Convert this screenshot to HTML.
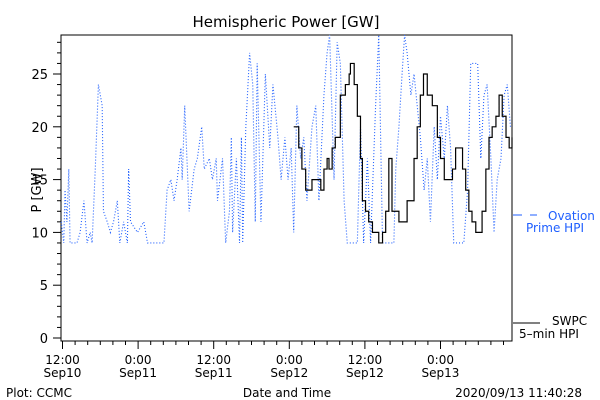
<!DOCTYPE html>
<html><head><meta charset="utf-8"><style>
html,body{margin:0;padding:0;background:#fff;}
svg{display:block;font-family:"DejaVu Sans","Liberation Sans",sans-serif;}
</style></head><body>
<svg id="chart" width="600" height="400" viewBox="0 0 600 400" xmlns="http://www.w3.org/2000/svg">
<rect x="0" y="0" width="600" height="400" fill="#fff"/>
<text x="286" y="27" font-size="15" text-anchor="middle" fill="#000">Hemispheric Power [GW]</text>
<text x="0" y="0" font-size="13" text-anchor="middle" transform="translate(41,190) rotate(-90)">P [GW]</text>
<g id="axes"></g>
<g id="series"></g>
<g>
<line x1="513" y1="215" x2="522" y2="215" stroke="#1f5fff"/>
<line x1="530" y1="215" x2="537" y2="215" stroke="#1f5fff"/>
<text x="548" y="220" font-size="12" fill="#1f5fff">Ovation</text>
<text x="526" y="232" font-size="12" fill="#1f5fff">Prime HPI</text>
<line x1="513" y1="323" x2="540" y2="323" stroke="#000"/>
<text x="552" y="325" font-size="12" fill="#000">SWPC</text>
<text x="519" y="338" font-size="12" fill="#000">5–min HPI</text>
</g>
<text x="6" y="397" font-size="12">Plot: CCMC</text>
<text x="287" y="397" font-size="12" text-anchor="middle">Date and Time</text>
<text x="582" y="397" font-size="12" text-anchor="end">2020/09/13 11:40:28</text>
</svg>
<script>
// hours since 2020-09-10 12:00
const ovationHours=[-0.2,0.2,0.4,0.7,1.0,1.2,1.8,2.3,2.8,3.4,3.9,4.4,4.7,5.2,5.7,6.3,6.5,7.1,7.6,8.1,8.7,9.1,9.7,10.3,10.5,10.8,11.9,12.9,13.5,16.1,16.6,17.2,17.7,18.2,18.8,19.0,19.4,20.1,20.9,21.4,22.1,22.5,23.3,23.8,24.4,24.6,25.4,25.9,26.5,26.8,27.0,27.6,28.1,28.4,28.6,29.1,29.7,30.2,30.6,30.9,31.5,32.2,32.9,33.4,34.2,34.7,35.3,35.8,36.3,36.7,37.2,37.8,38.3,38.8,39.6,40.2,40.7,41.5,42.0,42.4,43.1,43.6,44.1,44.7,45.2,45.7,46.3,46.8,47.3,47.8,48.4,48.9,49.7,50.2,50.8,51.5,52.6,52.9,53.4,53.9,54.3,54.7,55.3,55.8,56.3,56.8,57.4,57.9,58.4,59.0,59.5,60.0,60.6,61.1,61.6,62.1,63.2,63.7,64.3,64.8,65.9,66.4,66.9,67.4,68.0,68.5,69.0,69.6,70.1,70.6,71.1];
const ovationValues=[11,9,14,11,16,9,9,9,10,13,9,10,9,16,24,22,12,11,10,11,13,9,11,9,16,11,10,11,9,9,14,15,13,15,18,15,22,12,16,17,20,16,17,15,17,13,17,9,12,19,10,17,9,19,9,20,27,24,11,26,11,25,18,24,19,15,19,15,18,10,22,17,19,13,20,22,13,23,27,28.7,15,28,26,13,9,9,9,9,20,9,17,9,22,29,9,9,9,16,20,25,28.7,27,23,25,22,19,14,17,11,20,15,21,17,22,18,9,9,9,14,26,26,17,23,24,17,10,15,17,23,24,20];
const swpcHours=[36.7,37.5,38.0,38.6,39.1,39.6,40.4,41.0,41.5,42.0,42.3,42.8,43.3,44.1,44.9,45.5,45.7,46.3,46.8,47.3,47.6,48.1,48.6,49.2,50.0,50.2,50.8,51.3,51.8,52.3,52.9,53.4,54.2,54.7,55.3,55.8,56.3,56.8,57.3,57.9,58.7,59.5,60.0,60.6,61.3,61.9,62.4,62.9,63.5,64.0,64.5,65.0,65.6,66.1,66.6,67.2,67.7,68.2,68.8,69.3,69.8,70.4,70.9,71.4];
const swpcValues=[20,18,16,14,14,15,15,14,16,17,16,18,19,23,24,25,26,24,21,17,13,12,11,10,10,9,10,12,17,12,12,11,11,13,13,17,20,23,25,23,22,19,17,15,15,16,18,18,16,14,12,11,10,10,12,16,19,20,21,23,21,19,18,19];
const yTicks=[0,5,10,15,20,25];
const xTickHours=[0,12,24,36,48,60];
const xTickLabels=[["12:00","Sep10"],["0:00","Sep11"],["12:00","Sep11"],["0:00","Sep12"],["12:00","Sep12"],["0:00","Sep13"]];

const NS="http://www.w3.org/2000/svg";
const L=61,R=512,T=35,B=341;
const xS=h=>62.5+h*75.6/12;
const yS=v=>338-v*10.56;
function mk(tag,attrs,parent){const e=document.createElementNS(NS,tag);for(const k in attrs)e.setAttribute(k,attrs[k]);parent.appendChild(e);return e;}
const ax=document.getElementById('axes');
const frame=mk('rect',{x:L,y:T,width:R-L,height:B-T,fill:'none',stroke:'#000','stroke-width':1},ax);


for(let v=0;v<=28;v++){
  const len=(v%5===0)?8:4;
  const t=mk('line',{x1:L-len,x2:L,y1:yS(v),y2:yS(v),stroke:'#000'},ax);
  
  
}
yTicks.forEach(v=>{
  const t=mk('text',{x:L-13,y:yS(v)+5,'font-size':13,'text-anchor':'end'},ax);
  t.textContent=v;
  
  
});
for(let h=0;h<=70;h+=2){
  const major=h%12===0;
  const t=mk('line',{x1:xS(h),x2:xS(h),y1:B,y2:B+(major?8:4),stroke:'#000'},ax);
  
  
}
xTickHours.forEach((h,i)=>{
  const t=mk('text',{x:xS(h),y:364,'font-size':12,'text-anchor':'middle'},ax);
  t.textContent=xTickLabels[i][0];
  
  
  const d=mk('text',{x:xS(h),y:377,'font-size':12,'text-anchor':'middle'},ax);
  d.textContent=xTickLabels[i][1];
  
  
});
const sg=document.getElementById('series');
function stepPath(hs,vs){let d='';for(let i=0;i<hs.length;i++){const x=Math.max(L,Math.min(R,xS(hs[i]))),y=Math.max(T,Math.min(B,yS(vs[i])));if(i===0)d+='M'+x+' '+y;else{d+='H'+x+'V'+y;}}return d;}
function linePath(hs,vs){return hs.map((h,i)=>(i?'L':'M')+Math.max(L,Math.min(R,xS(h)))+' '+Math.max(T,Math.min(B,yS(vs[i])))).join('');}
const ov=mk('path',{d:linePath(ovationHours,ovationValues),fill:'none',stroke:'#1f5fff','stroke-width':1.1,'stroke-dasharray':'1 2'},sg);


const sw=mk('path',{d:stepPath(swpcHours,swpcValues),fill:'none',stroke:'#000','stroke-width':1.2},sg);


</script>
</body></html>
